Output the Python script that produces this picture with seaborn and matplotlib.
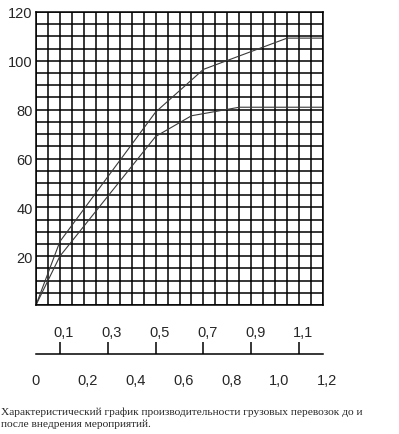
import pandas as pd
import seaborn as sns
import matplotlib.pyplot as plt
from matplotlib.ticker import MultipleLocator
from matplotlib.transforms import ScaledTranslation

# верхняя кривая - после внедрения, нижняя - до
x_after = [0, 0.1, 0.5, 0.7, 1.05, 1.2]
y_after = [0, 26, 79, 96.5, 109.3, 109.3]
x_before = [0, 0.1, 0.5, 0.65, 0.85, 1.2]
y_before = [0, 20, 69, 77.5, 81, 81]

y_ticks = [20, 40, 60, 80, 100, 120]
x_top_ticks = [0.1, 0.3, 0.5, 0.7, 0.9, 1.1]
x_top_labels = ["0,1", "0,3", "0,5", "0,7", "0,9", "1,1"]
x_bot_ticks = [0, 0.2, 0.4, 0.6, 0.8, 1.0, 1.2]
x_bot_labels = ["0", "0,2", "0,4", "0,6", "0,8", "1,0", "1,2"]

caption = ["Характеристический график производительности грузовых перевозок до и",
           "после внедрения мероприятий."]

sns.set_style("white")
plt.rcParams['font.family'] = ['Liberation Sans', 'DejaVu Sans']

df = pd.concat([
    pd.DataFrame({"x": x_after, "y": y_after, "s": "после"}),
    pd.DataFrame({"x": x_before, "y": y_before, "s": "до"}),
])

W, H = 399, 435
fig = plt.figure(figsize=(W / 100, H / 100), dpi=100)

# основная сетка
ax = fig.add_axes([36 / W, 1 - 306 / H, 287 / W, 293 / H])
sns.lineplot(data=df, x="x", y="y", hue="s", palette=["#3a3a3a", "#3a3a3a"],
             linewidth=0.8, legend=False, estimator=None, sort=False, ax=ax)
ax.set_xlim(0, 1.2)
ax.set_ylim(0, 120)
ax.set_xticks([])
ax.set_yticks(y_ticks)
ax.xaxis.set_minor_locator(MultipleLocator(0.05))
ax.yaxis.set_minor_locator(MultipleLocator(5))
ax.grid(which='both', color='black', linewidth=1.1)
ax.set_axisbelow(True)
ax.tick_params(which='both', length=0, pad=2.5, labelsize=10.5)
ax.set_xlabel("")
ax.set_ylabel("")
for s in ax.spines.values():
    s.set_color('black')
    s.set_linewidth(1.1)

# шкала под графиком
ax2 = fig.add_axes([36 / W, 1 - 355 / H, 287 / W, 12 / H])
ax2.set_xlim(0, 1.2)
ax2.set_ylim(0, 1)
ax2.set_yticks([])
ax2.patch.set_visible(False)
for k in ['left', 'right', 'top']:
    ax2.spines[k].set_visible(False)
ax2.spines['bottom'].set_color('black')
ax2.spines['bottom'].set_linewidth(1.1)
ax2.set_xticks(x_bot_ticks, x_bot_labels)
ax2.set_xticks(x_top_ticks, x_top_labels, minor=True)
ax2.tick_params(axis='x', which='both', direction='in', length=8.6, width=1.1,
                color='black', labelsize=10.5)
ax2.tick_params(axis='x', which='major', pad=14)
ax2.tick_params(axis='x', which='minor', bottom=True, top=False,
                labelbottom=False, labeltop=True, pad=2.5)

off = ScaledTranslation(4 / 100, 0, fig.dpi_scale_trans)
for t in ax2.xaxis.get_major_ticks() + ax2.xaxis.get_minor_ticks():
    for lbl in (t.label1, t.label2):
        if lbl.get_text() != "0":
            lbl.set_transform(lbl.get_transform() + off)

fig.text(0.002, 1 - 412 / H, caption[0], family='Liberation Serif', size=8.2, va='center')
fig.text(0.002, 1 - 424 / H, caption[1], family='Liberation Serif', size=8.2, va='center')

fig.savefig("out.png", dpi=100)
